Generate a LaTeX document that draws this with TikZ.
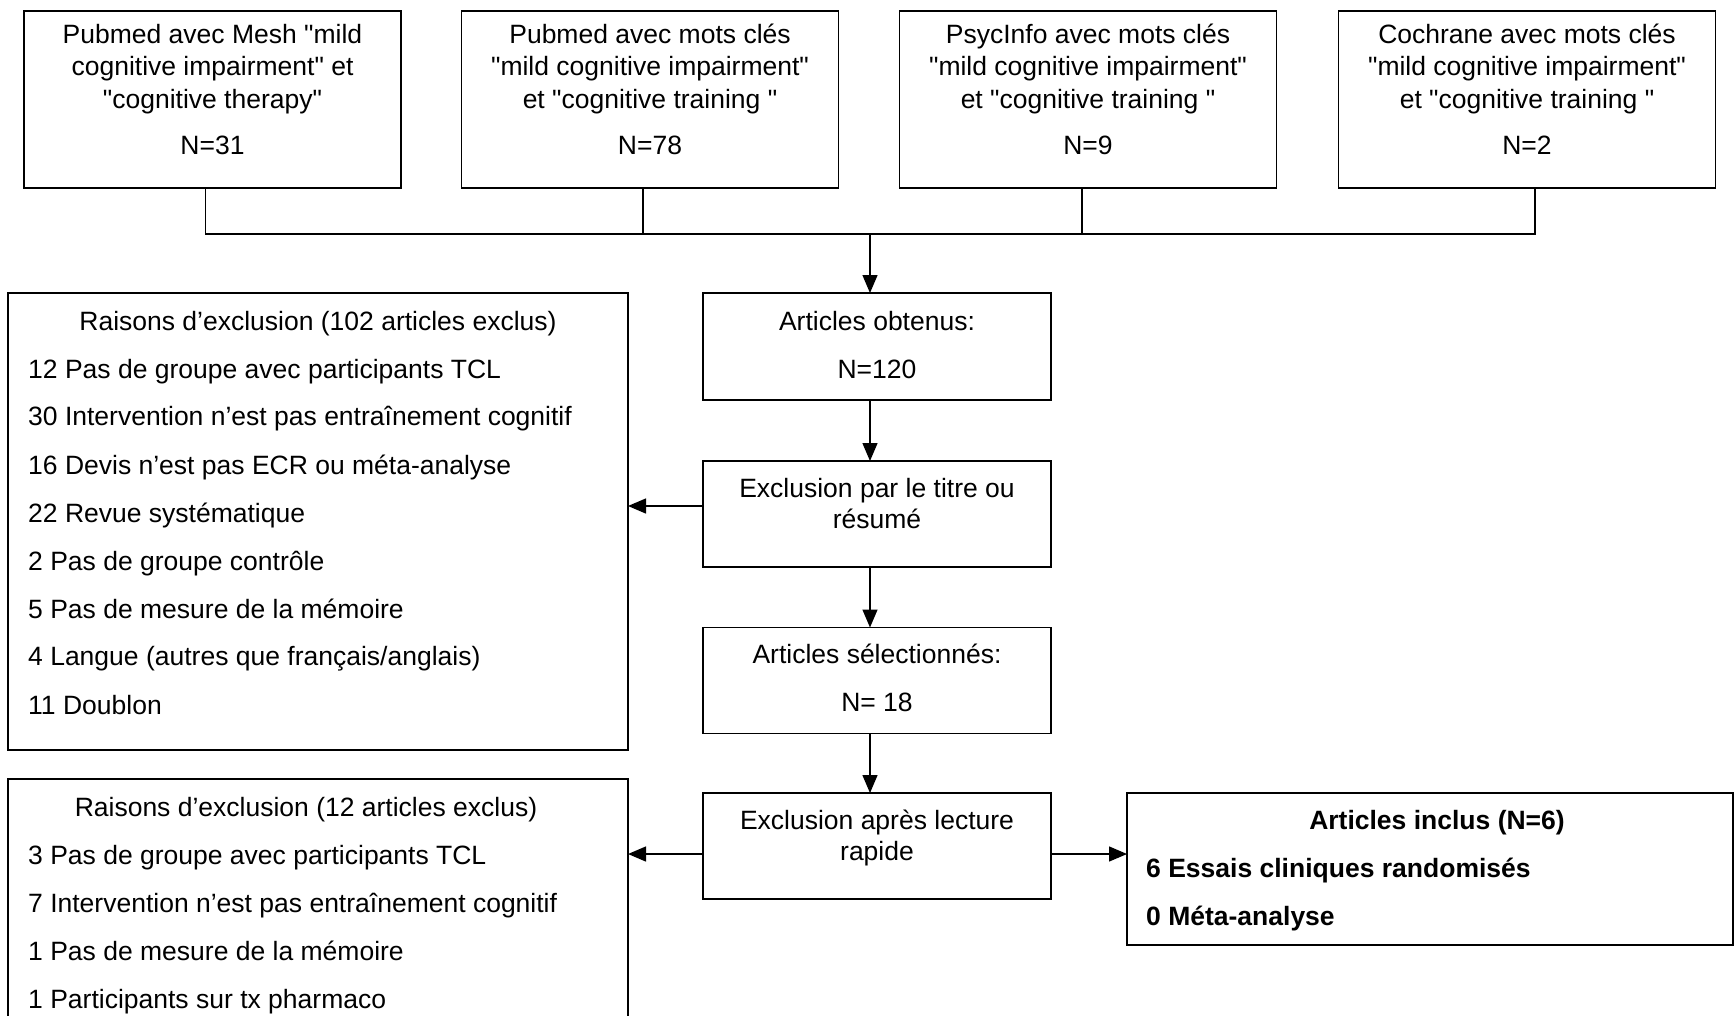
\documentclass[tikz,border=0pt]{standalone}
\usepackage{fontspec}
\setmainfont{Liberation Sans}[Ligatures=TeXOff]
\usetikzlibrary{arrows.meta,calc}
\begin{document}
\begin{tikzpicture}[x=1pt,y=-1pt,
  box/.style={draw,line width=1.5pt,inner sep=0pt,outer sep=0pt},
  ctxt/.style={inner sep=0pt,anchor=base,font=\fontsize{26.5}{32}\selectfont},
  ltxt/.style={inner sep=0pt,anchor=base west,font=\fontsize{26.5}{32}\selectfont},
  conn/.style={line width=1.4pt},
  arr/.style={conn,-{Triangle[length=18pt,width=15pt]}}]
\useasboundingbox (0,0) rectangle (1736,1015);
\clip (0,0) rectangle (1736,1015);
\fill[white] (0,0) rectangle (1736,1015);

% top boxes
\node[box,minimum width=377pt,minimum height=177pt] (b1) at (212.5,99.5) {};
\node[box,minimum width=377pt,minimum height=177pt] (b2) at (650,99.5) {};
\node[box,minimum width=377pt,minimum height=177pt] (b3) at (1088,99.5) {};
\node[box,minimum width=377pt,minimum height=177pt] (b4) at (1527,99.5) {};

\node[ctxt] (b1a) at (212.5,43) {Pubmed avec Mesh "mild};
\node[ctxt] (b1b) at (212.5,75) {cognitive impairment" et};
\node[ctxt] (b1c) at (212.5,108) {"cognitive therapy"};
\node[ctxt] (b1n) at (212.5,154) {N=31};

\node[ctxt] (b2a) at (650,43) {Pubmed avec mots clés};
\node[ctxt] (b2b) at (650,75) {"mild cognitive impairment"};
\node[ctxt] (b2c) at (650,108) {et "cognitive training "};
\node[ctxt] (b2n) at (650,154) {N=78};

\node[ctxt] (b3a) at (1088,43) {PsycInfo avec mots clés};
\node[ctxt] (b3b) at (1088,75) {"mild cognitive impairment"};
\node[ctxt] (b3c) at (1088,108) {et "cognitive training "};
\node[ctxt] (b3n) at (1088,154) {N=9};

\node[ctxt] (b4a) at (1527,43) {Cochrane avec mots clés};
\node[ctxt] (b4b) at (1527,75) {"mild cognitive impairment"};
\node[ctxt] (b4c) at (1527,108) {et "cognitive training "};
\node[ctxt] (b4n) at (1527,154) {N=2};

% middle column
\node[box,minimum width=348pt,minimum height=107pt] (m1) at (877,346.5) {};
\node[box,minimum width=348pt,minimum height=106pt] (m2) at (877,514) {};
\node[box,minimum width=348pt,minimum height=106pt] (m3) at (877,680.5) {};
\node[box,minimum width=348pt,minimum height=106pt] (m4) at (877,846) {};

\node[ctxt] (m1a) at (877,330) {Articles obtenus:};
\node[ctxt] (m1n) at (877,378) {N=120};
\node[ctxt] (m2a) at (877,497) {Exclusion par le titre ou};
\node[ctxt] (m2b) at (877,528) {résumé};
\node[ctxt] (m3a) at (877,663) {Articles sélectionnés:};
\node[ctxt] (m3n) at (877,711) {N= 18};
\node[ctxt] (m4a) at (877,829) {Exclusion après lecture};
\node[ctxt] (m4b) at (877,860) {rapide};

% left boxes
\node[box,minimum width=620pt,minimum height=457pt] (l1) at (318,521.5) {};
\node[box,minimum width=620pt,minimum height=266pt] (l2) at (318,912) {};

\node[ctxt] (l1t) at (318,330) {Raisons d’exclusion (102 articles exclus)};
\node[ltxt] (l1a) at (28,378) {12 Pas de groupe avec participants TCL};
\node[ltxt] (l1b) at (28,425) {30 Intervention n’est pas entraînement cognitif};
\node[ltxt] (l1c) at (28,474) {16 Devis n’est pas ECR ou méta-analyse};
\node[ltxt] (l1d) at (28,522) {22 Revue systématique};
\node[ltxt] (l1e) at (28,570) {2 Pas de groupe contrôle};
\node[ltxt] (l1f) at (28,618) {5 Pas de mesure de la mémoire};
\node[ltxt] (l1g) at (28,665) {4 Langue (autres que français/anglais)};
\node[ltxt] (l1h) at (28,714) {11 Doublon};

\node[ctxt] (l2t) at (306,816) {Raisons d’exclusion (12 articles exclus)};
\node[ltxt] (l2a) at (28,864) {3 Pas de groupe avec participants TCL};
\node[ltxt] (l2b) at (28,912) {7 Intervention n’est pas entraînement cognitif};
\node[ltxt] (l2c) at (28,960) {1 Pas de mesure de la mémoire};
\node[ltxt] (l2d) at (28,1008) {1 Participants sur tx pharmaco};

% right box
\node[box,minimum width=606pt,minimum height=152pt] (r) at (1430,869) {};
\node[ctxt,font=\fontsize{26.5}{32}\selectfont\bfseries] (rt) at (1437,829) {Articles inclus (N=6)};
\node[ltxt,font=\fontsize{26.5}{32}\selectfont\bfseries] (ra) at (1146,877) {6 Essais cliniques randomisés};
\node[ltxt,font=\fontsize{26.5}{32}\selectfont\bfseries] (rb) at (1146,925) {0 Méta-analyse};

% connectors
\coordinate (bus) at (870,234);
\draw[conn] ($(b1.south)+(-7,0)$) -- ++(0,46) -- ($(b4.south)+(8,46)$) -- ($(b4.south)+(8,0)$);
\draw[conn] ($(b2.south)+(-7,0)$) -- ++(0,46);
\draw[conn] ($(b3.south)+(-6,0)$) -- ++(0,46);
\draw[arr] (bus) -- (bus |- m1.north);
\draw[arr] ($(m1.south)+(-7,0)$) -- ($(m2.north)+(-7,0)$);
\draw[arr] ($(m2.south)+(-7,0)$) -- ($(m3.north)+(-7,0)$);
\draw[arr] ($(m3.south)+(-7,0)$) -- ($(m4.north)+(-7,0)$);
\coordinate (e2) at ($(m2.west)+(0,-8)$);
\coordinate (e4) at ($(m4.west)+(0,8)$);
\coordinate (i4) at ($(m4.east)+(0,8)$);
\draw[arr] (e2) -- (e2 -| l1.east);
\draw[arr] (e4) -- (e4 -| l2.east);
\draw[arr] (i4) -- (i4 -| r.west);
\end{tikzpicture}
\end{document}
